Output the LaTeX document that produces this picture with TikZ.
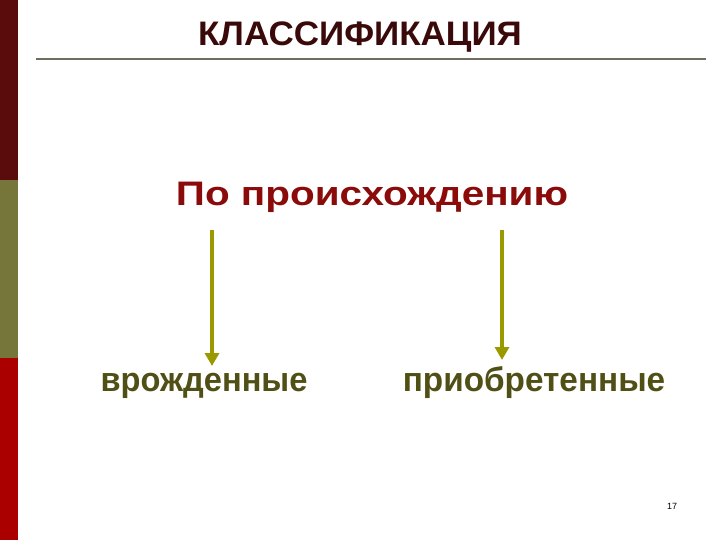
\documentclass[tikz,border=0pt]{standalone}
\usepackage{fontspec}
\usepackage{graphicx}
\setmainfont{Liberation Sans}
\usetikzlibrary{arrows.meta}
\definecolor{bardark}{HTML}{5A0C0C}
\definecolor{barolive}{HTML}{76753A}
\definecolor{barred}{HTML}{AA0000}
\definecolor{titlecol}{HTML}{3A0A0A}
\definecolor{headcol}{HTML}{8B0A0A}
\definecolor{lblcol}{HTML}{505016}
\definecolor{arrowcol}{HTML}{9A9A00}
\definecolor{rulecol}{HTML}{6E6E5E}
\tikzset{
  arr/.style={draw=arrowcol, line width=3.5pt, -{Triangle[width=14pt,length=13pt]}},
  lbl/.style={font=\fontsize{34}{38}\selectfont\bfseries, text=lblcol, inner sep=0pt, anchor=base},
}
\begin{document}
\begin{tikzpicture}[x=1pt,y=-1pt]
\useasboundingbox (0,0) rectangle (720,540);
\fill[bardark] (0,0) rectangle (18,180);
\fill[barolive] (0,180) rectangle (18,358);
\fill[barred] (0,358) rectangle (18,540);
\draw[rulecol, line width=2.5pt] (36,59) -- (706,59);
\node[inner sep=0pt, anchor=base, text=titlecol, font=\fontsize{34}{38}\selectfont\bfseries] (title) at (360,46) {\scalebox{1.03}[1]{КЛАССИФИКАЦИЯ}};
\node[inner sep=0pt, anchor=base, text=headcol, font=\fontsize{34}{38}\selectfont\bfseries] (head) at (372,206) {\scalebox{1.19}[1]{По происхождению}};
\node[lbl] (left) at (204,391) {\scalebox{0.96}[1]{врожденные}};
\node[lbl] (right) at (534,391) {\scalebox{0.98}[1]{приобретенные}};
\node[inner sep=0pt, font=\fontsize{9}{10}\selectfont] (page) at (672,506) {17};
\coordinate (s1) at (212,230);
\coordinate (e1) at (212,366);
\coordinate (s2) at (502,230);
\coordinate (e2) at (502,360);
\draw[arr] (s1) -- (e1);
\draw[arr] (s2) -- (e2);
\end{tikzpicture}
\end{document}
